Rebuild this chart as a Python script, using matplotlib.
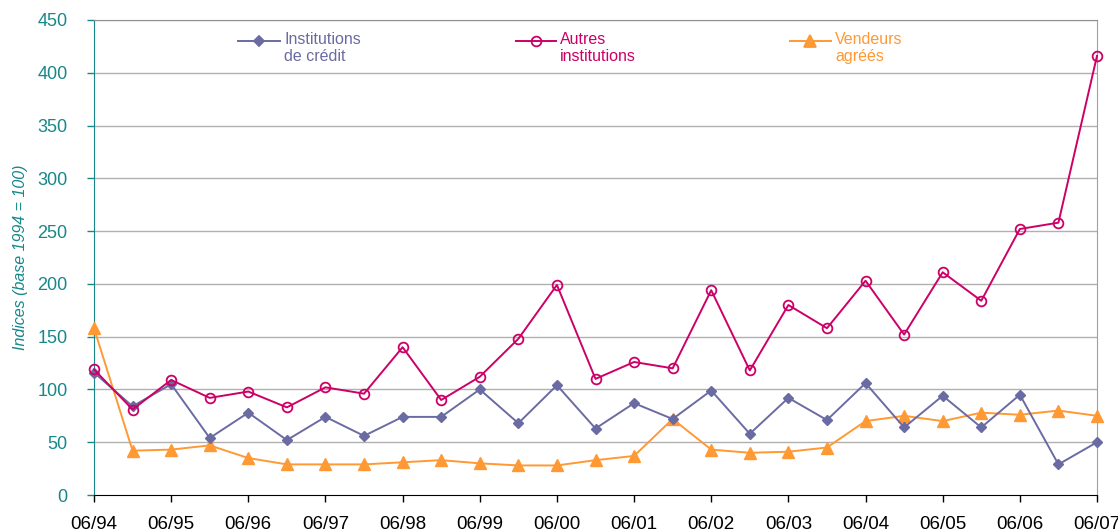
import numpy as np
import matplotlib.pyplot as plt
from matplotlib.lines import Line2D

plt.rcParams['font.family'] = ['Liberation Sans', 'DejaVu Sans']

# half-year observations, 06/94 .. 06/07
periods = ['06/94', '12/94', '06/95', '12/95', '06/96', '12/96', '06/97', '12/97',
           '06/98', '12/98', '06/99', '12/99', '06/00', '12/00', '06/01', '12/01',
           '06/02', '12/02', '06/03', '12/03', '06/04', '12/04', '06/05', '12/05',
           '06/06', '12/06', '06/07']
credit = [116, 84, 105, 54, 78, 52, 74, 56, 74, 74, 100, 68, 104, 63, 87, 72,
          99, 58, 92, 71, 106, 64, 94, 64, 95, 29, 50]
autres = [119, 81, 109, 92, 98, 83, 102, 96, 140, 90, 112, 148, 199, 110, 126, 120,
          194, 118, 180, 158, 203, 152, 211, 184, 252, 258, 416]
vendeurs = [158, 42, 43, 47, 35, 29, 29, 29, 31, 33, 30, 28, 28, 33, 37, 72,
            43, 40, 41, 45, 70, 75, 70, 78, 76, 80, 75]

labels = ['Institutions\nde crédit', 'Autres\ninstitutions', 'Vendeurs\nagréés']

c_credit = '#6B6BA3'
c_autres = '#CC0066'
c_vend = '#FF9933'
teal = '#17878A'

x = np.arange(len(periods))

fig = plt.figure(figsize=(11.18, 5.31), dpi=100)
ax = fig.add_axes([94 / 1118, 1 - 495 / 531, (1097 - 94) / 1118, 475 / 531])

for v in range(50, 451, 50):
    ax.axhline(v, color='#B0B0B0', lw=1.0, zorder=0)

ax.plot(x, vendeurs, color=c_vend, lw=1.4, marker='^', ms=8, clip_on=False, zorder=3)
ax.plot(x, credit, color=c_credit, lw=1.4, marker='D', ms=5.5, clip_on=False, zorder=4)
ax.plot(x, autres, color=c_autres, lw=1.4, marker='o', ms=7, mfc='none', mew=1.3,
        clip_on=False, zorder=5)

ax.set_xlim(0, len(periods) - 1)
ax.set_ylim(0, 450)
ax.set_xticks(x[::2])
ax.set_xticklabels(periods[::2])
ax.set_yticks(range(0, 451, 50))
ax.tick_params(axis='y', colors=teal, labelsize=13, length=5, width=1, pad=14)
ax.tick_params(axis='x', colors='black', labelsize=13.5, length=5, width=1, pad=10)
ax.spines['left'].set_color(teal)
ax.spines['bottom'].set_color('black')
ax.spines['top'].set_color('#909090')
ax.spines['right'].set_color('#A0A0A0')
ax.set_ylabel('Indices (base 1994 = 100)', color=teal, fontsize=11.5, style='italic')
ax.yaxis.set_label_coords(-0.066, 0.5)

# legend drawn by hand across the top
entries = [(238, 284, c_credit, 'D', 5.5, c_credit),
           (516, 560, c_autres, 'o', 7, 'none'),
           (790, 835, c_vend, '^', 8, c_vend)]
for (x0, xt, col, mk, ms, fc), lab in zip(entries, labels):
    ly = 1 - 41 / 531
    fig.add_artist(Line2D([x0 / 1118, (xt - 4) / 1118], [ly, ly], color=col, lw=1.4))
    fig.add_artist(Line2D([(x0 + xt - 4) / 2 / 1118], [ly], color=col, marker=mk,
                          ms=ms, mfc=fc, mew=1.3, lw=0))
    fig.text(xt / 1118, 1 - 32 / 531, lab, color=col, fontsize=11.5, va='top',
             ha='left', linespacing=1.15)

fig.savefig('out.png', dpi=100)
